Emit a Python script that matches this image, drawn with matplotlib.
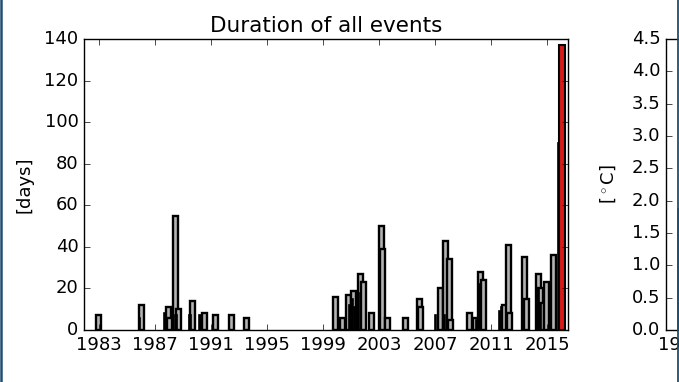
import numpy as np
import matplotlib
matplotlib.use("Agg")
import matplotlib.pyplot as plt
from matplotlib.lines import Line2D

plt.style.use("classic")
plt.rcParams["xtick.labelsize"] = 13
plt.rcParams["ytick.labelsize"] = 13
plt.rcParams["axes.labelsize"] = 13
plt.rcParams["axes.titlesize"] = 15.5

# event start (decimal year) and duration [days]
starts = [1982.79, 1985.88, 1987.79, 1987.84, 1988.31, 1988.50, 1989.50, 1990.36,
          1991.16, 1992.31, 1993.38, 1999.70, 2000.20, 2000.64, 2001.00, 2001.52,
          2001.69, 2002.26, 2002.98, 2003.07, 2003.45, 2004.74, 2005.74, 2005.79,
          2007.24, 2007.55, 2007.84, 2007.95, 2009.26, 2009.74, 2010.09, 2010.26,
          2011.76, 2012.07, 2012.12, 2013.21, 2013.38, 2014.24, 2014.38, 2014.46,
          2014.79, 2015.26]
days = [7, 12, 11, 6, 55, 10, 14, 8,
        7, 7, 6, 16, 6, 17, 19, 27,
        23, 8, 50, 39, 6, 6, 15, 11,
        20, 43, 34, 5, 8, 6, 28, 24,
        12, 41, 8, 35, 15, 27, 20, 13,
        23, 36]

# short overlapping events (show up as thin dark bars)
short_starts = [1985.85, 1987.64, 1988.45, 1989.45, 1990.16, 2000.85, 2001.05, 2001.20,
                2001.45, 2002.99, 2005.70, 2007.00, 2007.60, 2009.95, 2010.12, 2011.57,
                2011.70, 2014.35, 2014.50, 2015.80]
short_days = [6, 8, 7, 7, 7, 12, 15, 11,
              18, 39, 6, 7, 7, 5, 22, 9,
              11, 20, 13, 90]

# current event
cur_start = [2015.88]
cur_days = [137]

# intensity panel (only its first bar is visible)
int_starts = [1982.79]
int_vals = [1.87]

ticks = list(range(1983, 2016, 4))
xlim = (1981.93, 2016.5)

fig = plt.figure(figsize=(6.79, 3.82), dpi=100)
fig.patch.set_facecolor("white")

ax = fig.add_axes([84/679, 1 - 330/382, 484/679, 291/382])
ax.bar(starts, days, width=0.36, align="edge", color="0.7", edgecolor="k", linewidth=1.7)
ax.bar(short_starts, short_days, width=0.1, align="edge", color="k", edgecolor="k", linewidth=1.2)
ax.bar(cur_start, cur_days, width=0.43, align="edge", color="#d81a1a", edgecolor="k", linewidth=1.5)
ax.set_xlim(*xlim)
ax.set_ylim(0, 140)
ax.set_xticks(ticks)
ax.set_xticklabels([str(t) for t in ticks])
ax.set_title("Duration of all events")
ax.set_ylabel("[days]")
ax.yaxis.set_label_coords(-0.105, 0.5)

ax2 = fig.add_axes([666/679, 1 - 330/382, 484/679, 291/382])
ax2.bar(int_starts, int_vals, width=0.34, align="edge", color="#1f4f73", edgecolor="#1f4f73", linewidth=1.3)
ax2.set_xlim(*xlim)
ax2.set_ylim(0, 4.5)
ax2.set_xticks(ticks)
ax2.set_xticklabels([str(t) for t in ticks])
ax2.set_ylabel(r"[$^\circ$C]")
ax2.yaxis.set_label_coords(-0.099, 0.5)

# frame around the screenshot
fig.add_artist(Line2D([1.2/679, 1.2/679], [0, 1], transform=fig.transFigure, color="#1f4f73", lw=1.8))
fig.add_artist(Line2D([677.8/679, 677.8/679], [0, 1], transform=fig.transFigure, color="#1f4f73", lw=1.3))

fig.savefig("out.png", dpi=100, facecolor="white")
